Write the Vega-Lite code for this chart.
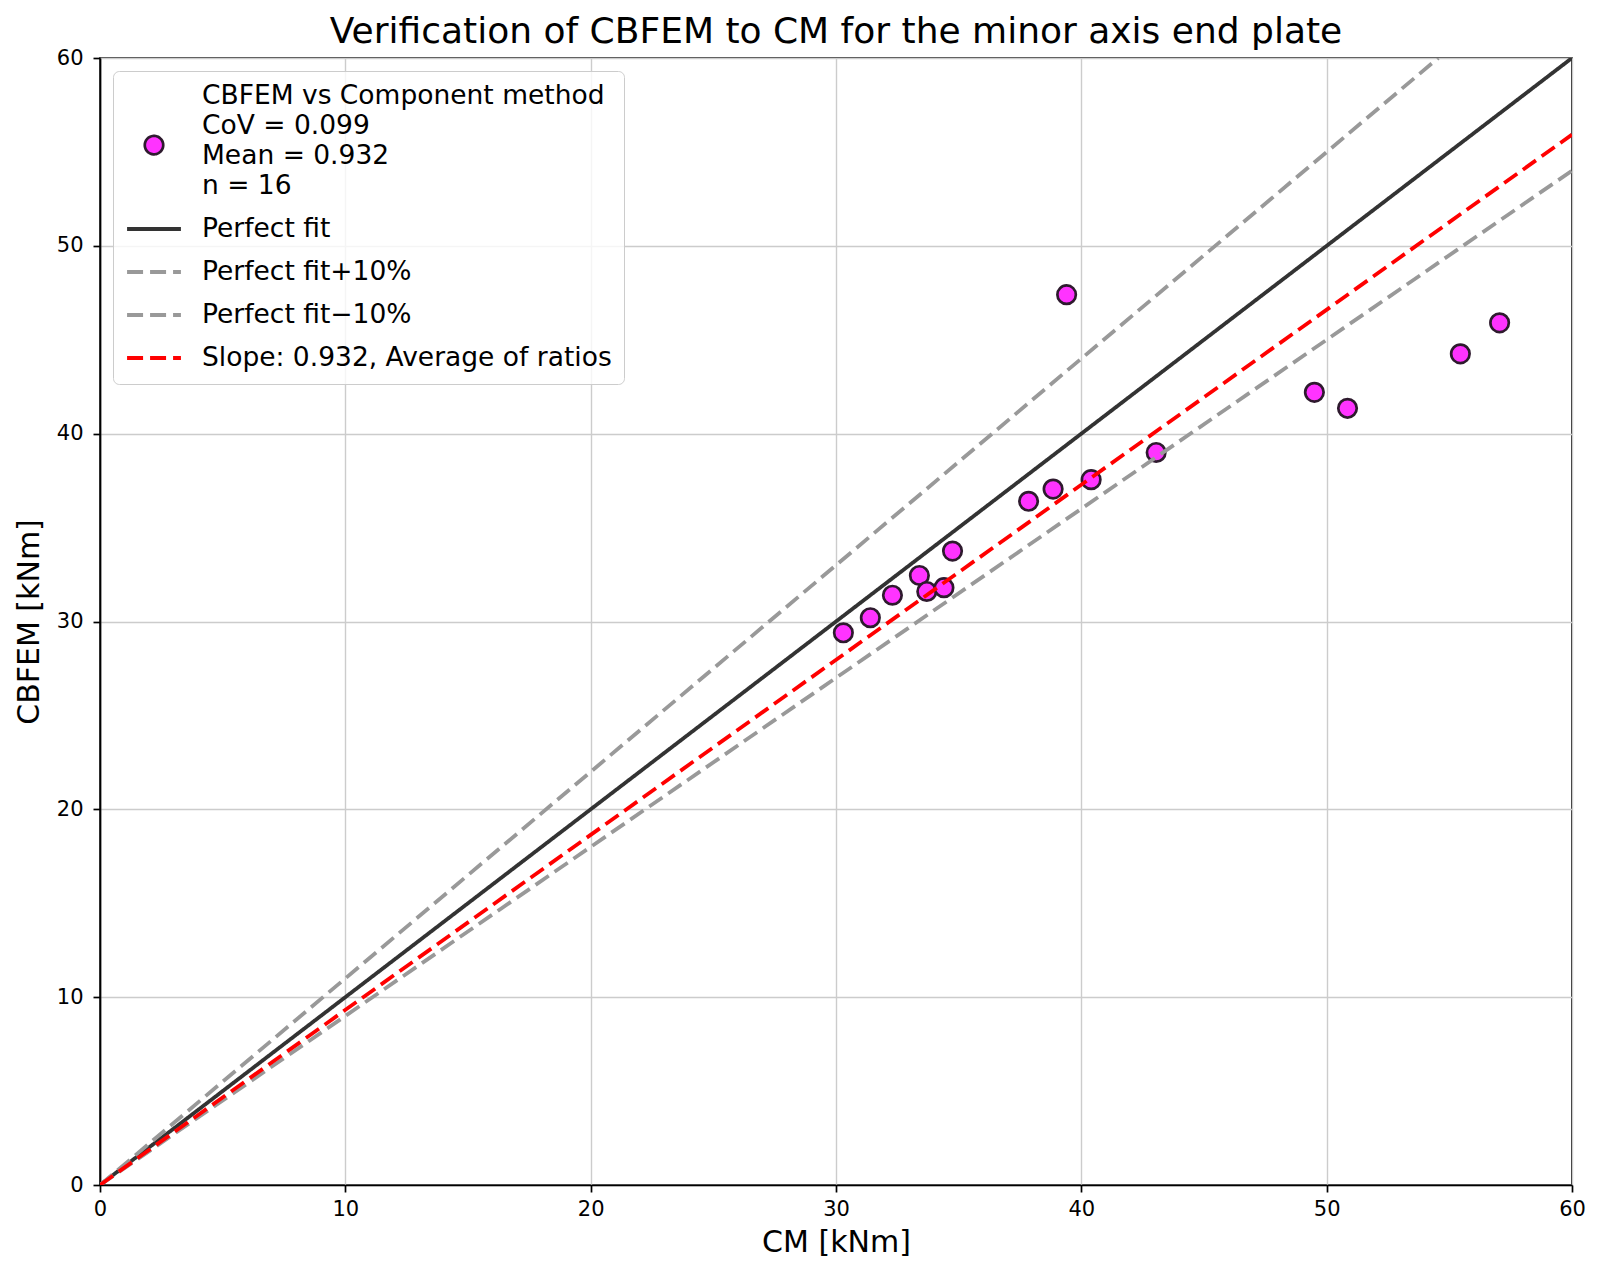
{
  "$schema": "https://vega.github.io/schema/vega-lite/v6.json",
  "autosize": "none",
  "width": 1472,
  "height": 1127,
  "padding": {"left": 100, "top": 58, "right": 28, "bottom": 94},
  "background": "white",
  "title": {
    "text": "Verification of CBFEM to CM for the minor axis end plate",
    "fontSize": 36,
    "fontWeight": "normal",
    "font": "DejaVu Sans",
    "color": "black",
    "frame": "group",
    "baseline": "bottom",
    "offset": 7,
    "dy": 47
  },
  "datasets": {
    "points": [
      {"series": "CBFEM vs Component method", "cm": 30.3, "cbfem": 29.4},
      {"series": "CBFEM vs Component method", "cm": 31.4, "cbfem": 30.2},
      {"series": "CBFEM vs Component method", "cm": 32.3, "cbfem": 31.4},
      {"series": "CBFEM vs Component method", "cm": 33.4, "cbfem": 32.45},
      {"series": "CBFEM vs Component method", "cm": 33.7, "cbfem": 31.6},
      {"series": "CBFEM vs Component method", "cm": 34.4, "cbfem": 31.8},
      {"series": "CBFEM vs Component method", "cm": 34.75, "cbfem": 33.75},
      {"series": "CBFEM vs Component method", "cm": 37.85, "cbfem": 36.4},
      {"series": "CBFEM vs Component method", "cm": 38.85, "cbfem": 37.05},
      {"series": "CBFEM vs Component method", "cm": 39.4, "cbfem": 47.4},
      {"series": "CBFEM vs Component method", "cm": 40.4, "cbfem": 37.55},
      {"series": "CBFEM vs Component method", "cm": 43.05, "cbfem": 39.0},
      {"series": "CBFEM vs Component method", "cm": 49.5, "cbfem": 42.2},
      {"series": "CBFEM vs Component method", "cm": 50.85, "cbfem": 41.35},
      {"series": "CBFEM vs Component method", "cm": 55.45, "cbfem": 44.25},
      {"series": "CBFEM vs Component method", "cm": 57.05, "cbfem": 45.9}
    ],
    "lines": [
      {"series": "Perfect fit", "cm": 0, "cbfem": 0},
      {"series": "Perfect fit", "cm": 60, "cbfem": 60},
      {"series": "Perfect fit+10%", "cm": 0, "cbfem": 0},
      {"series": "Perfect fit+10%", "cm": 54.55, "cbfem": 60},
      {"series": "Perfect fit−10%", "cm": 0, "cbfem": 0},
      {"series": "Perfect fit−10%", "cm": 60, "cbfem": 54},
      {"series": "Slope: 0.932, Average of ratios", "cm": 0, "cbfem": 0},
      {"series": "Slope: 0.932, Average of ratios", "cm": 60, "cbfem": 55.92}
    ]
  },
  "encoding": {
    "x": {
      "field": "cm",
      "type": "quantitative",
      "title": "CM [kNm]",
      "scale": {"domain": [0, 60], "nice": false, "zero": false},
      "axis": {"values": [0, 10, 20, 30, 40, 50, 60], "labelPadding": 6, "titlePadding": 8}
    },
    "y": {
      "field": "cbfem",
      "type": "quantitative",
      "title": "CBFEM [kNm]",
      "scale": {"domain": [0, 60], "nice": false, "zero": false},
      "axis": {"values": [0, 10, 20, 30, 40, 50, 60], "labelPadding": 10, "titlePadding": 12}
    },
    "strokeWidth": {
      "field": "series",
      "type": "nominal",
      "scale": {
        "type": "ordinal",
        "domain": ["CBFEM vs Component method", "Perfect fit", "Perfect fit+10%", "Perfect fit−10%", "Slope: 0.932, Average of ratios"],
        "range": [2.7, 3.8, 3.8, 3.8, 3.8]
      }
    }
  },
  "layer": [
    {
      "data": {"name": "points"},
      "mark": {"type": "point", "shape": "circle", "size": 340, "opacity": 1, "stroke": "#2e1a2e"},
      "encoding": {
        "fill": {
          "field": "series",
          "type": "nominal",
          "scale": {
            "domain": ["CBFEM vs Component method", "Perfect fit", "Perfect fit+10%", "Perfect fit−10%", "Slope: 0.932, Average of ratios"],
            "range": ["#ff33ff", "#333333", "#999999", "#999999", "#ff0000"]
          },
          "legend": {
            "title": null,
            "orient": "top-left",
            "offset": 13,
            "padding": 12,
            "fillColor": "rgba(255,255,255,0.8)",
            "strokeColor": "#cccccc",
            "cornerRadius": 6,
            "labelFont": "DejaVu Sans",
            "labelFontSize": 26.5,
            "labelColor": "black",
            "labelOffset": 19,
            "labelLimit": 1000,
            "rowPadding": 0,
            "symbolOpacity": 1,
            "labelExpr": "datum.value === 'CBFEM vs Component method' ? ['CBFEM vs Component method', 'CoV = 0.099', 'Mean = 0.932', 'n = 16'] : datum.label"
          }
        }
      }
    },
    {
      "data": {"name": "lines"},
      "transform": [{"filter": "false"}],
      "mark": {"type": "point", "opacity": 1},
      "encoding": {
        "shape": {
          "field": "series",
          "type": "nominal",
          "scale": {
            "domain": ["CBFEM vs Component method", "Perfect fit", "Perfect fit+10%", "Perfect fit−10%", "Slope: 0.932, Average of ratios"],
            "range": ["M-1,5.3A1,1,0,1,1,1,5.3A1,1,0,1,1,-1,5.3Z", "stroke", "stroke", "stroke", "stroke"]
          }
        },
        "size": {
          "field": "series",
          "type": "nominal",
          "scale": {
            "type": "ordinal",
            "domain": ["CBFEM vs Component method", "Perfect fit", "Perfect fit+10%", "Perfect fit−10%", "Slope: 0.932, Average of ratios"],
            "range": [340, 2900, 2900, 2900, 2900]
          }
        }
      }
    },
    {
      "data": {"name": "lines"},
      "mark": {"type": "line", "clip": true},
      "encoding": {
        "stroke": {
          "field": "series",
          "type": "nominal",
          "scale": {
            "domain": ["CBFEM vs Component method", "Perfect fit", "Perfect fit+10%", "Perfect fit−10%", "Slope: 0.932, Average of ratios"],
            "range": ["#2e1a2e", "#333333", "#999999", "#999999", "#ff0000"]
          }
        },
        "strokeDash": {
          "field": "series",
          "type": "nominal",
          "scale": {
            "domain": ["CBFEM vs Component method", "Perfect fit", "Perfect fit+10%", "Perfect fit−10%", "Slope: 0.932, Average of ratios"],
            "range": [[1, 0], [1, 0], [16, 7], [16, 7], [16, 7]]
          }
        }
      }
    }
  ],
  "config": {
    "font": "DejaVu Sans",
    "view": {"stroke": "black", "strokeWidth": 1.7},
    "style": {"guide-label": {"lineHeight": 30}},
    "axis": {
      "labelFont": "DejaVu Sans",
      "labelFontSize": 21,
      "labelColor": "black",
      "titleFont": "DejaVu Sans",
      "titleFontSize": 30,
      "titleFontWeight": "normal",
      "titleColor": "black",
      "domainColor": "black",
      "domainWidth": 1.7,
      "tickColor": "black",
      "tickWidth": 1.7,
      "tickSize": 7,
      "grid": true,
      "gridColor": "#cccccc",
      "gridWidth": 1.4,
      "labelFlush": false,
      "labelOverlap": false
    }
  }
}
